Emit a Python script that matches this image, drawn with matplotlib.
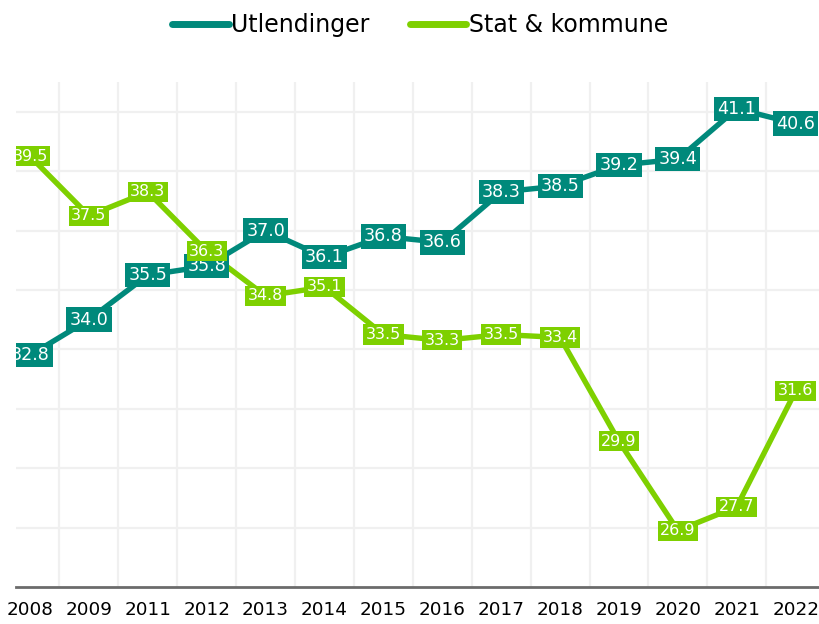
import matplotlib
matplotlib.use("Agg")
import matplotlib.pyplot as plt

# Data
aar = ["2008", "2009", "2011", "2012", "2013", "2014", "2015",
       "2016", "2017", "2018", "2019", "2020", "2021", "2022"]
utlendinger = [32.8, 34.0, 35.5, 35.8, 37.0, 36.1, 36.8,
               36.6, 38.3, 38.5, 39.2, 39.4, 41.1, 40.6]
stat_kommune = [39.5, 37.5, 38.3, 36.3, 34.8, 35.1, 33.5,
                33.3, 33.5, 33.4, 29.9, 26.9, 27.7, 31.6]

TEAL = "#00897b"
GREEN = "#7ed000"

plt.rcParams["font.family"] = ["DejaVu Sans"]

fig = plt.figure(figsize=(8.19, 6.24), dpi=100)
ax = fig.add_axes([16 / 819, 37 / 624, 803 / 819, 505 / 624])

x = list(range(len(aar)))

# grid: vertical lines between categories, horizontal every 2 units
for b in [i + 0.5 for i in x[:-1]]:
    ax.axvline(b, color="#f0f0f0", lw=1.6, zorder=0)
for yv in range(27, 42, 2):
    ax.axhline(yv, color="#f0f0f0", lw=1.6, zorder=0)

ax.plot(x, utlendinger, color=TEAL, lw=3.9, solid_capstyle="round",
        solid_joinstyle="round", label="Utlendinger", zorder=2)
ax.plot(x, stat_kommune, color=GREEN, lw=3.9, solid_capstyle="round",
        solid_joinstyle="round", label="Stat & kommune", zorder=2)

for xi, v in zip(x, utlendinger):
    ax.text(xi, v, f"{v:.1f}", ha="center", va="center", fontsize=12.6,
            color="white", zorder=3, clip_on=True,
            bbox=dict(boxstyle="square,pad=0.18", fc=TEAL, ec="none"))
for xi, v in zip(x, stat_kommune):
    ax.text(xi, v, f"{v:.1f}", ha="center", va="center", fontsize=11.4,
            color="white", zorder=4, clip_on=True,
            bbox=dict(boxstyle="square,pad=0.16", fc=GREEN, ec="none"))

ax.set_xlim(-0.238, 13.396)
ax.set_ylim(25, 42)
ax.set_xticks(x)
ax.set_xticklabels(aar, fontsize=13.2)
ax.set_yticks([])
ax.tick_params(axis="x", length=0, pad=10)
for s in ["top", "right", "left"]:
    ax.spines[s].set_visible(False)
ax.spines["bottom"].set_color("#6b6b6b")
ax.spines["bottom"].set_linewidth(2)

leg = fig.legend(loc="center", bbox_to_anchor=(420 / 819, 1 - 25 / 624),
                 ncol=2, frameon=False, fontsize=17, handlelength=2.4,
                 handletextpad=0.1, columnspacing=1.7)
for h in leg.get_lines():
    h.set_linewidth(5)
    h.set_solid_capstyle("round")

fig.savefig("out.png", dpi=100)
